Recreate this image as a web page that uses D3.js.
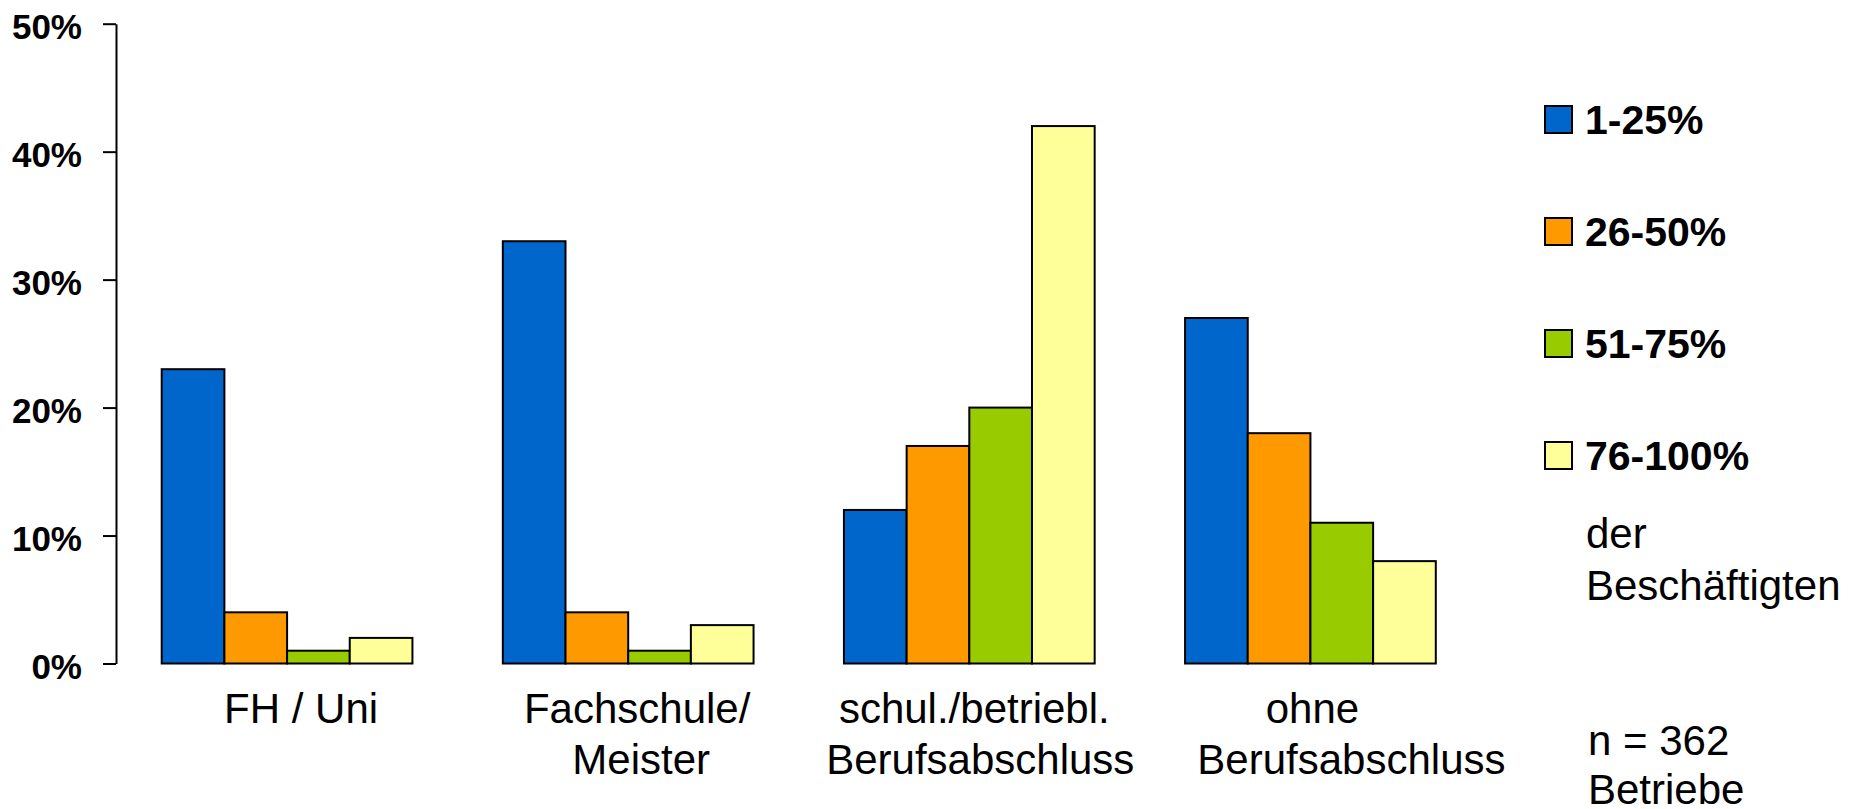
<!DOCTYPE html>
<html>
<head>
<meta charset="utf-8">
<script src="https://cdn.jsdelivr.net/npm/d3@7"></script>
<style>
  html, body { margin: 0; padding: 0; background: #fff; }
  svg { display: block; font-family: "Liberation Sans", Arial, sans-serif; }
</style>
</head>
<body>
<div id="chart"></div>
<script>
// data
const categories = [
  ['FH / Uni'],
  ['Fachschule/', 'Meister'],
  ['schul./betriebl.', 'Berufsabschluss'],
  ['ohne', 'Berufsabschluss']
];
const seriesNames = ['1-25%', '26-50%', '51-75%', '76-100%'];
const series1to25 = [23, 33, 12, 27];
const series26to50 = [4, 4, 17, 18];
const series51to75 = [1, 1, 20, 11];
const series76to100 = [2, 3, 42, 8];
const yTicks = [0, 10, 20, 30, 40, 50];
const noteLines = ['der', 'Beschäftigten'];
const sampleLines = ['n = 362', 'Betriebe'];

const colors = ['#0066CC', '#FF9900', '#99CC00', '#FFFF99'];

const width = 1858, height = 809;
const axisX = 116;
// small horizontal nudges for the category text lines, as in the original
const labelShift = [[14], [9, 13], [5, 11], [2, 41]];

const svg = d3.select('#chart').append('svg')
  .attr('width', width)
  .attr('height', height);

const allSeries = [series1to25, series26to50, series51to75, series76to100];
const table = categories.map((c, i) => ({
  idx: i,
  values: allSeries.map((s, k) => ({ k: k, value: s[i] }))
}));

const y = d3.scaleLinear().domain([0, 50]).range([663.5, 23.7]);

const x0 = d3.scaleBand()
  .domain(d3.range(categories.length))
  .range([axisX, 1481.5])
  .paddingInner(0.265)
  .paddingOuter(0.134);

const x1 = d3.scaleBand()
  .domain(d3.range(seriesNames.length))
  .range([0, x0.bandwidth()]);

// y axis
const yAxis = svg.append('g')
  .attr('transform', `translate(${axisX},0)`)
  .call(d3.axisLeft(y).tickValues(yTicks).tickFormat(d => d + '%')
    .tickSize(13).tickSizeOuter(0).tickPadding(21));
yAxis.select('.domain').attr('stroke', '#000').attr('stroke-width', 2);
yAxis.selectAll('.tick line').attr('stroke', '#000').attr('stroke-width', 2);
yAxis.selectAll('.tick text')
  .attr('fill', '#000')
  .attr('dy', '0.43em')
  .style('font-size', '35px')
  .style('font-weight', 'bold')
  .style('font-family', '"Liberation Sans", Arial, sans-serif');

// bars
const groups = svg.append('g').selectAll('g')
  .data(table)
  .join('g')
  .attr('transform', d => `translate(${x0(d.idx)},0)`);

groups.selectAll('rect')
  .data(d => d.values)
  .join('rect')
  .attr('x', d => x1(d.k))
  .attr('y', d => y(d.value))
  .attr('width', x1.bandwidth())
  .attr('height', d => y(0) - y(d.value))
  .attr('fill', d => colors[d.k])
  .attr('stroke', '#000')
  .attr('stroke-width', 2);

// category labels
const catText = svg.append('g').selectAll('text')
  .data(categories)
  .join('text')
  .attr('text-anchor', 'middle')
  .attr('fill', '#000')
  .style('font-size', '42px');
catText.each(function (lines, i) {
  const cx = x0(i) + x0.bandwidth() / 2;
  d3.select(this).selectAll('tspan')
    .data(lines)
    .join('tspan')
    .attr('x', (l, j) => cx + labelShift[i][j])
    .attr('y', (l, j) => 723 + j * 51)
    .text(l => l);
});

// legend
const legend = svg.append('g').attr('transform', 'translate(1545,106)');
const item = legend.selectAll('g')
  .data(seriesNames)
  .join('g')
  .attr('transform', (d, i) => `translate(0,${i * 112})`);
item.append('rect')
  .attr('width', 27)
  .attr('height', 27)
  .attr('fill', (d, i) => colors[i])
  .attr('stroke', '#000')
  .attr('stroke-width', 2);
item.append('text')
  .attr('x', 40)
  .attr('y', 28)
  .attr('fill', '#000')
  .style('font-size', '41px')
  .style('font-weight', 'bold')
  .text(d => d);

// notes
svg.append('text')
  .style('font-size', '42px')
  .attr('fill', '#000')
  .selectAll('tspan')
  .data(noteLines)
  .join('tspan')
  .attr('x', 1586)
  .attr('y', (d, i) => 548 + i * 52)
  .text(d => d);

svg.append('text')
  .style('font-size', '42px')
  .attr('fill', '#000')
  .selectAll('tspan')
  .data(sampleLines)
  .join('tspan')
  .attr('x', 1588)
  .attr('y', (d, i) => 755 + i * 49)
  .text(d => d);
</script>
</body>
</html>
